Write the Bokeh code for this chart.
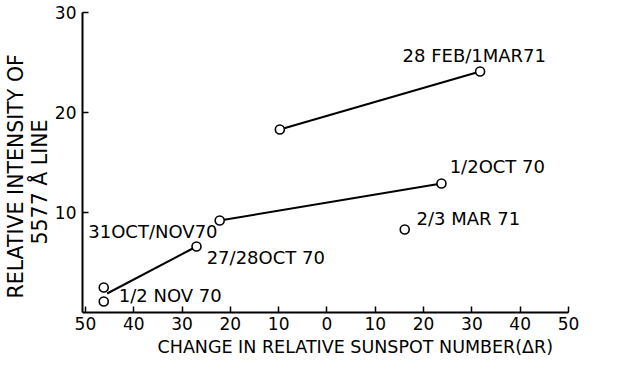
from bokeh.plotting import figure
from bokeh.models import FixedTicker, Title, Range1d, ColumnDataSource
from bokeh.embed import file_html
from bokeh.resources import INLINE
from bokeh.core.properties import value

# ---- data ----
pt_x = [-46.2, -46.2, -27.0, -22.2, 23.7, 16.1, -9.75, 31.7]
pt_y = [1.1, 2.5, 6.6, 9.2, 12.9, 8.3, 18.3, 24.1]

seg1_x = [-45.5, -27.0]
seg1_y = [1.9, 6.6]
seg2_x = [-22.2, 23.7]
seg2_y = [9.2, 12.9]
seg3_x = [-9.75, 31.7]
seg3_y = [18.3, 24.1]

labels = ["28 FEB/1MAR71", "1/2OCT 70", "2/3 MAR 71", "31OCT/NOV70", "27/28OCT 70", "1/2 NOV 70"]
label_x = [15.65, 25.4, 18.55, -49.4, -24.9, -43.1]
label_y = [25.7, 14.6, 9.4, 8.1, 5.5, 1.7]

x_ticks = [-50, -40, -30, -20, -10, 0, 10, 20, 30, 40, 50]
x_tick_labels = ["50", "40", "30", "20", "10", "0", "10", "20", "30", "40", "50"]
y_ticks = [10, 20, 30]

x_title = "CHANGE IN RELATIVE SUNSPOT NUMBER(\u0394R)"
y_title_1 = "RELATIVE INTENSITY OF"
y_title_2 = "5577 \u00c5 LINE"

FONT = "DejaVu Sans"

p = figure(width=611, height=366, x_range=Range1d(-50.6, 50), y_range=Range1d(0, 30),
           output_backend="svg", toolbar_location=None,
           min_border_left=82, min_border_right=43, min_border_top=12, min_border_bottom=54)
p.outline_line_color = None
p.grid.visible = False
p.background_fill_color = "white"
p.border_fill_color = "white"

for ax, ticks in ((p.xaxis[0], x_ticks), (p.yaxis[0], y_ticks)):
    ax.ticker = FixedTicker(ticks=ticks)
    ax.major_tick_in = 6
    ax.major_tick_out = 0
    ax.minor_tick_line_color = None
    ax.axis_line_width = 2
    ax.major_tick_line_width = 1.5
    ax.axis_line_color = "black"
    ax.major_tick_line_color = "black"
    ax.major_label_text_font = FONT
    ax.major_label_text_font_size = "17px"
    ax.major_label_text_color = "black"

p.xaxis[0].major_label_overrides = {t: s for t, s in zip(x_ticks, x_tick_labels)}
p.xaxis[0].major_label_standoff = 4
p.yaxis[0].major_label_standoff = 6

for sx, sy in ((seg1_x, seg1_y), (seg2_x, seg2_y), (seg3_x, seg3_y)):
    p.line(sx, sy, line_color="black", line_width=2)

p.scatter(pt_x, pt_y, marker="circle", size=9, fill_color="white",
          line_color="black", line_width=1.6)

src = ColumnDataSource(dict(x=label_x, y=label_y, text=labels))
p.text(x="x", y="y", text="text", source=src, text_font=value(FONT),
       text_font_size="18px", text_align="left", text_baseline="middle", text_color="black")


def side_title(text, size, offset, standoff):
    return Title(text=text, align="left", offset=offset, standoff=standoff,
                 text_font=FONT, text_font_size=size, text_font_style="normal",
                 text_color="black")


p.add_layout(side_title(x_title, "17.5px", 75, 5), "below")
p.add_layout(side_title(y_title_2, "20.5px", 68, 0), "left")
p.add_layout(side_title(y_title_1, "20.5px", 14, -4), "left")

open("out.html", "w").write(file_html(p, INLINE))
